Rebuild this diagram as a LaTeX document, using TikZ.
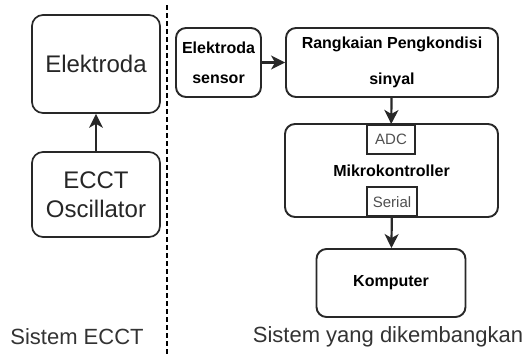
\documentclass[tikz,border=0pt]{standalone}
\usepackage{fontspec}
\setmainfont{Liberation Sans}
\usepackage{tikz}
\usetikzlibrary{arrows.meta}
\definecolor{BoxLine}{RGB}{40,40,40}
\definecolor{PortText}{RGB}{80,80,80}
\tikzset{
  nd_big/.style={
    rectangle, rounded corners=11pt, draw=BoxLine, line width=1.7pt,
    align=center, inner sep=0pt, text=black!85,
    font=\fontsize{24}{29}\selectfont},
  nd_blk/.style={
    rectangle, rounded corners=10pt, draw=BoxLine, line width=1.9pt,
    align=center, inner sep=0pt,
    font=\fontsize{16}{30}\selectfont\bfseries},
  nd_port/.style={
    rectangle, draw=BoxLine, fill=white, line width=1.6pt,
    minimum height=29pt, inner sep=0pt, text=PortText,
    font=\fontsize{15}{18}\selectfont},
  arr/.style={-{Stealth[length=14pt,width=14pt,inset=4pt]},line width=2.2pt,draw=BoxLine},
  divline/.style={line width=1.6pt,dash pattern=on 5pt off 3pt},
  lbl/.style={font=\fontsize{22}{26}\selectfont,text=black!80},
}

\begin{document}
\begin{tikzpicture}[x=1pt,y=-1pt]
\useasboundingbox (0,0) rectangle (526,354);

%% Sistem ECCT
\node[nd_big,minimum width=128pt,minimum height=98pt] at (96,64)    (elec){Elektroda};
\node[nd_big,minimum width=128pt,minimum height=85pt] at (96,194.5) (osc){ECCT\\Oscillator};
\node[lbl] at (77,337) (lblL){Sistem ECCT};

\coordinate (divtop) at (167,5);
\coordinate (divbot) at (167,354);
\draw[divline] (divtop)--(divbot);

%% Sistem yang dikembangkan
\node[nd_blk,minimum width=85pt,minimum height=69pt]  at (218.5,62.5) (sensor){Elektroda\\sensor};
\node[nd_blk,minimum width=212pt,minimum height=69pt,
      font=\fontsize{16}{36}\selectfont\bfseries]       at (392,62.5)   (signal){Rangkaian Pengkondisi\\sinyal};
\node[nd_blk,minimum width=213pt,minimum height=93pt] at (391.5,170.5) (mcu){Mikrokontroller};
\node[nd_port,minimum width=48pt,anchor=north] at (391,124)  (adc){ADC};
\node[nd_port,minimum width=50pt,anchor=south] at (392,217)  (serial){Serial};
\node[nd_blk,minimum width=149pt,minimum height=68pt] at (391,283)   (pc){Komputer};
\node[lbl] at (388,337) (lblR){Sistem yang dikembangkan};

\draw[arr,line width=1.6pt] (osc)--(elec);
\draw[arr] (sensor)--(signal);
\draw[arr] (signal)--(adc);
\draw[arr] (serial)--(pc);

\end{tikzpicture}
\end{document}
